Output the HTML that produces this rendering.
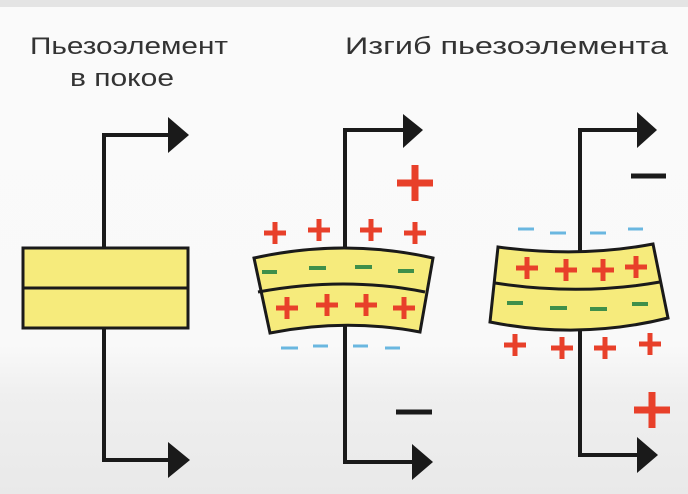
<!DOCTYPE html>
<html><head><meta charset="utf-8"><style>
html,body{margin:0;padding:0;background:#fff;}
svg{display:block;}
</style></head><body>
<svg width="688" height="494" viewBox="0 0 688 494" xmlns="http://www.w3.org/2000/svg">
<defs>
<linearGradient id="bg" x1="0" y1="0" x2="0" y2="1">
<stop offset="0" stop-color="#fafafa"/>
<stop offset="0.7" stop-color="#f9f9f9"/>
<stop offset="0.8" stop-color="#efefef"/>
<stop offset="1" stop-color="#e9e9e9"/>
</linearGradient>
<path id="p" d="M-11 0 H11 M0 -11 V11" stroke="#e8402a" stroke-width="5"/>
<path id="P" d="M-18 0 H18 M0 -18 V18" stroke="#e8402a" stroke-width="7"/>
</defs>
<rect width="688" height="494" fill="url(#bg)"/>
<rect width="688" height="7" fill="#e4e4e4"/>
<g font-family="Liberation Sans, DejaVu Sans, sans-serif" font-size="24" fill="#333">
<text x="30" y="54" textLength="198" lengthAdjust="spacingAndGlyphs">Пьезоэлемент</text>
<text x="70" y="86" textLength="104" lengthAdjust="spacingAndGlyphs">в покое</text>
<text x="345" y="54" textLength="323" lengthAdjust="spacingAndGlyphs">Изгиб пьезоэлемента</text>
</g>
<g stroke="#1a1a1a" stroke-width="4" fill="none">
<path d="M104 248 V135 H172"/><path d="M104 328 V460 H172"/>
<path d="M345 248 V130 H405"/><path d="M345 324 V462 H414"/>
<path d="M580 252 V130 H640"/><path d="M580 330 V455 H640"/>
</g>
<g fill="#1a1a1a">
<polygon points="168,117 189,135 168,153"/><polygon points="168,442 190,460 168,478"/>
<polygon points="403,114 423,130 403,148"/><polygon points="412,444 433,462 412,480"/>
<polygon points="637,112 657,130 637,148"/><polygon points="637,437 658,455 637,473"/>
</g>
<g stroke="#1a1a1a" stroke-width="3" fill="#f6eb7c">
<rect x="23" y="248" width="165" height="80"/>
<line x1="23" y1="288" x2="188" y2="288"/>
<path d="M254 258 Q345 238 433 258 L420 332 Q345 318 270 333 Z"/>
<path d="M258 292 Q345 276 425 292" fill="none"/>
<path d="M498 247 Q580 258 653 244 L668 318 Q580 340 490 322 Z"/>
<path d="M495 283 Q580 296 660 282" fill="none"/>
</g>
<use href="#P" x="415" y="183"/><use href="#P" x="652" y="410"/>
<use href="#p" x="275" y="233"/><use href="#p" x="319" y="230"/><use href="#p" x="371" y="230"/><use href="#p" x="415" y="233"/>
<use href="#p" x="287" y="308"/><use href="#p" x="327" y="305"/><use href="#p" x="366" y="305"/><use href="#p" x="404" y="308"/>
<use href="#p" x="527" y="268"/><use href="#p" x="566" y="270"/><use href="#p" x="603" y="270"/><use href="#p" x="636" y="267"/>
<use href="#p" x="515" y="345"/><use href="#p" x="562" y="348"/><use href="#p" x="605" y="348"/><use href="#p" x="650" y="344"/>
<g stroke="#1a1a1a" stroke-width="5"><line x1="396" y1="412" x2="432" y2="412"/><line x1="631" y1="176" x2="666" y2="176"/></g>
<g stroke="#3f8f4a" stroke-width="4">
<line x1="262" y1="272" x2="277" y2="272"/><line x1="309" y1="268" x2="326" y2="268"/><line x1="355" y1="267" x2="372" y2="267"/><line x1="398" y1="271" x2="414" y2="271"/>
<line x1="507" y1="303" x2="523" y2="303"/><line x1="550" y1="308" x2="567" y2="308"/><line x1="590" y1="309" x2="607" y2="309"/><line x1="632" y1="304" x2="648" y2="304"/>
</g>
<g stroke="#6ab7e0" stroke-width="3">
<line x1="281" y1="348" x2="298" y2="348"/><line x1="313" y1="346" x2="328" y2="346"/><line x1="353" y1="346" x2="368" y2="346"/><line x1="385" y1="348" x2="400" y2="348"/>
<line x1="518" y1="229" x2="534" y2="229"/><line x1="550" y1="233" x2="566" y2="233"/><line x1="590" y1="233" x2="606" y2="233"/><line x1="628" y1="229" x2="643" y2="229"/>
</g>
</svg>
</body></html>
